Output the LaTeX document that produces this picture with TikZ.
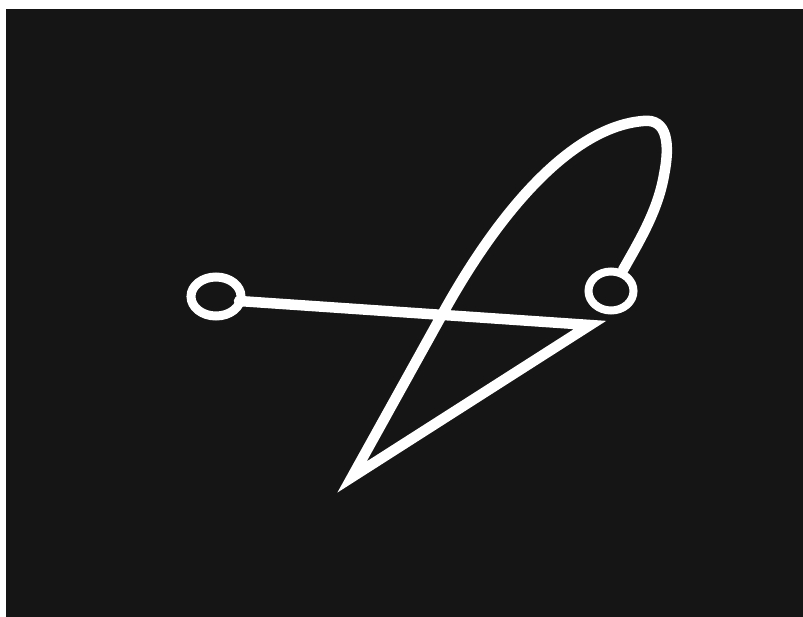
\documentclass[tikz,border=0pt]{standalone}
\definecolor{bgdark}{HTML}{151515}
\begin{document}
\begin{tikzpicture}[x=1pt,y=-1pt,
  ink/.style={draw=white, line width=10.5pt},
  sharp/.style={line join=miter, miter limit=25, line cap=round}]
\useasboundingbox (0,0) rectangle (803,616);
\fill[white] (-5,-5) rectangle (810,620);
\fill[bgdark] (6,9) rectangle (810,620);
% circles
\coordinate (L) at (216,296.5);
\coordinate (R) at (611,291);
\draw[ink, line width=9pt] (L) ellipse [x radius=25pt, y radius=19.5pt];
\draw[ink, line width=8pt] (R) ellipse [x radius=22.5pt, y radius=19.5pt];
% main stroke
\coordinate (A) at (239,301);
\coordinate (T) at (590,325);
\coordinate (B) at (352,477);
\coordinate (X) at (443,313);
\coordinate (P) at (643,121);
\coordinate (Q) at (664,175);
\coordinate (S) at (623,270);
\draw[ink, sharp] (A) -- (T) -- (B) -- (X)
  .. controls (500,210) and (572,127) .. (P)
  .. controls (668,118) and (670,145) .. (Q)
  .. controls (658,210) and (640,240) .. (S);
\end{tikzpicture}
\end{document}
